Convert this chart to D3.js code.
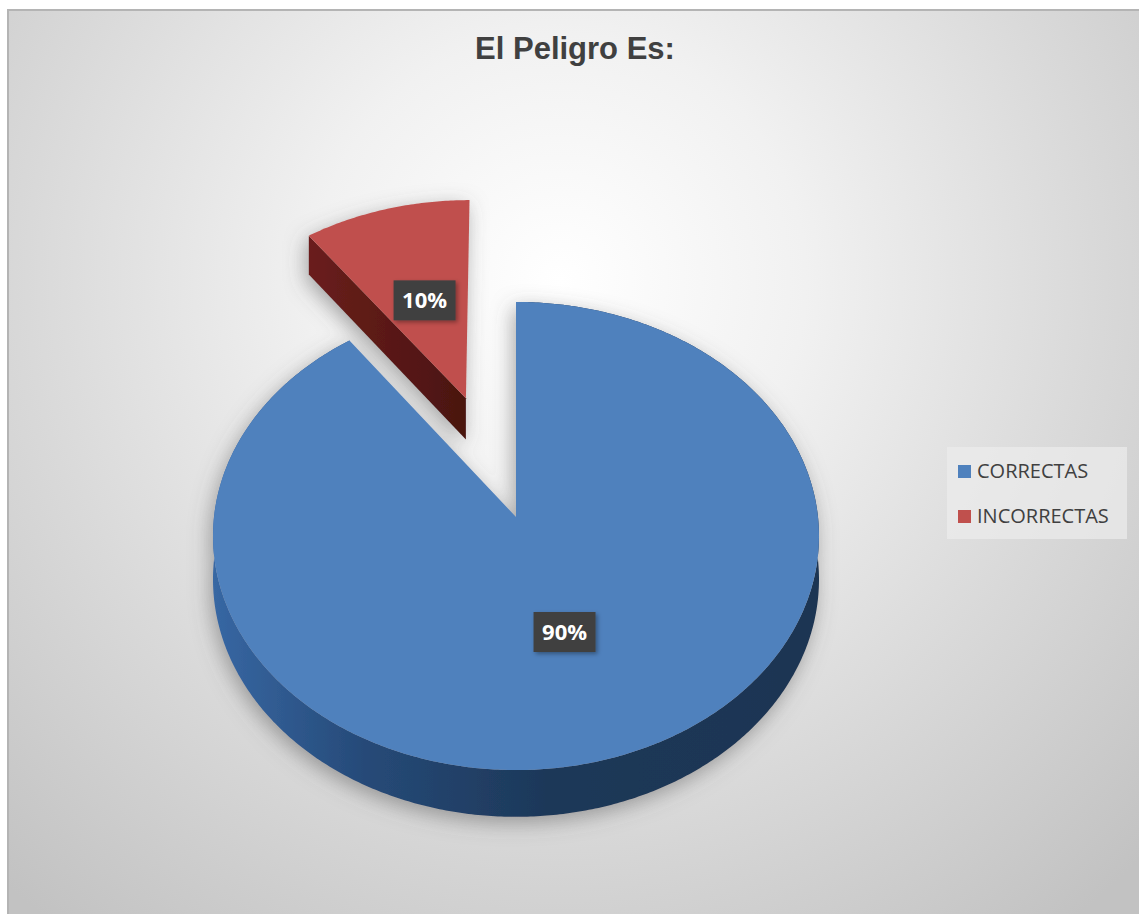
<!DOCTYPE html>
<html>
<head>
<meta charset="utf-8">
<script src="https://cdn.jsdelivr.net/npm/d3@7"></script>
<style>
  html, body { margin: 0; padding: 0; background: #ffffff; }
  svg { display: block; }
</style>
</head>
<body>
<div id="chart"></div>
<script>
// values
const categories = ['CORRECTAS', 'INCORRECTAS'];
const values = [90, 10];
const labels = ['90%', '10%'];
const exploded = [0, 0.56];
const chartTitle = 'El Peligro Es:';

(function () {
  const WIDTH = 1139;
  const HEIGHT = 914;
  const TOP_COLORS = ['#4f81bd', '#c0504d'];
  const SIDE_STOPS = [
    [['0', '#3767a3'], ['0.25', '#264a78'], ['0.55', '#1d3859'], ['1', '#1c3552']],
    [['0', '#6a1f1c'], ['1', '#4a1310']]
  ];

  // perspective projection of the pie plane: u to the right, w to the back
  const CX = 516;
  const CY = 517;
  const PERSPECTIVE = 0.0812;
  const DEPTH = 43;
  const uScale = d3.scaleLinear().domain([-1, 1]).range([-302, 302]);
  const wScale = d3.scaleLinear().domain([-1, 1]).range([232.5, -232.5]);

  function project (u, w, lift) {
    let s = 1 / (1 + PERSPECTIVE * w);
    return [CX + uScale(u) * s, CY + wScale(w) * s + lift * DEPTH * s];
  }

  function pointAt (center, angle, r, lift) {
    return project(center[0] + r * Math.sin(angle), center[1] + r * Math.cos(angle), lift);
  }

  function arcPoints (center, a0, a1, lift) {
    let steps = Math.max(8, Math.ceil((a1 - a0) / 0.01));
    let pts = [];
    for (let i = 0; i <= steps; i++) {
      pts.push(pointAt(center, a0 + (a1 - a0) * i / steps, 1, lift));
    }
    return pts;
  }

  const line = d3.line().curve(d3.curveLinearClosed);

  let svg = d3.select('#chart').append('svg')
    .attr('width', WIDTH)
    .attr('height', HEIGHT);

  let defs = svg.append('defs');
  let bg = defs.append('radialGradient')
    .attr('id', 'bg')
    .attr('gradientUnits', 'userSpaceOnUse')
    .attr('cx', 560).attr('cy', 280).attr('r', 820);
  bg.append('stop').attr('offset', '0').attr('stop-color', '#ffffff');
  bg.append('stop').attr('offset', '0.3').attr('stop-color', '#f1f1f1');
  bg.append('stop').attr('offset', '0.65').attr('stop-color', '#d9d9d9');
  bg.append('stop').attr('offset', '1').attr('stop-color', '#c2c2c2');

  SIDE_STOPS.forEach(function (stops, i) {
    let g = defs.append('linearGradient')
      .attr('id', 'side' + i)
      .attr('x1', '0').attr('y1', '0').attr('x2', '1').attr('y2', '0');
    stops.forEach(function (s) {
      g.append('stop').attr('offset', s[0]).attr('stop-color', s[1]);
    });
  });

  let shadow = defs.append('filter').attr('id', 'shadow')
    .attr('x', '-20%').attr('y', '-20%').attr('width', '140%').attr('height', '140%');
  shadow.append('feDropShadow')
    .attr('dx', -3).attr('dy', 6).attr('stdDeviation', 10)
    .attr('flood-color', '#555555').attr('flood-opacity', 0.5);

  let labelShadow = defs.append('filter').attr('id', 'labelShadow')
    .attr('x', '-30%').attr('y', '-30%').attr('width', '160%').attr('height', '160%');
  labelShadow.append('feDropShadow')
    .attr('dx', 2).attr('dy', 2).attr('stdDeviation', 2)
    .attr('flood-color', '#000000').attr('flood-opacity', 0.35);

  // chart area
  svg.append('rect')
    .attr('x', 8).attr('y', 10)
    .attr('width', WIDTH).attr('height', HEIGHT)
    .attr('fill', 'url(#bg)')
    .attr('stroke', '#b4b4b4')
    .attr('stroke-width', 2);

  svg.append('text')
    .attr('x', 575).attr('y', 59)
    .attr('text-anchor', 'middle')
    .attr('font-family', '"Liberation Sans", Arial, sans-serif')
    .attr('font-weight', 'bold')
    .attr('font-size', 31)
    .attr('fill', '#404040')
    .text(chartTitle);

  let slices = d3.pie().sort(null).value(function (d) { return d; })(values);
  let pieGroup = svg.append('g').attr('filter', 'url(#shadow)');

  // back (exploded) slices first, then the main one
  let order = slices.map(function (d, i) { return i; })
    .sort(function (a, b) { return exploded[b] - exploded[a]; });

  let labelSpots = [];
  order.forEach(function (i) {
    let d = slices[i];
    let mid = (d.startAngle + d.endAngle) / 2;
    let center = [exploded[i] * Math.sin(mid), exploded[i] * Math.cos(mid)];
    let g = pieGroup.append('g');

    if (exploded[i] > 0) {
      // radial face on the left edge of the slice is the one facing us
      let c0 = pointAt(center, 0, 0, 0);
      let c1 = pointAt(center, 0, 0, 1);
      let r0 = pointAt(center, d.startAngle, 1, 0);
      let r1 = pointAt(center, d.startAngle, 1, 1);
      g.append('path')
        .attr('d', line([c0, r0, r1, c1]))
        .attr('fill', 'url(#side' + i + ')');
    } else {
      let top = arcPoints(center, d.startAngle, d.endAngle, 0);
      let bottom = arcPoints(center, d.startAngle, d.endAngle, 1).reverse();
      g.append('path')
        .attr('d', line(top.concat(bottom)))
        .attr('fill', 'url(#side' + i + ')');
    }

    let face = [pointAt(center, 0, 0, 0)].concat(arcPoints(center, d.startAngle, d.endAngle, 0));
    g.append('path')
      .attr('d', line(face))
      .attr('fill', TOP_COLORS[i]);

    labelSpots[i] = pointAt(center, mid, 0.5, 0);
  });

  // data labels
  slices.forEach(function (d, i) {
    let p = labelSpots[i];
    let lg = svg.append('g').attr('transform', 'translate(' + p[0] + ',' + p[1] + ')');
    lg.append('rect')
      .attr('x', -31).attr('y', -20)
      .attr('width', 62).attr('height', 40)
      .attr('fill', '#404040')
      .attr('filter', 'url(#labelShadow)');
    lg.append('text')
      .attr('y', 8)
      .attr('text-anchor', 'middle')
      .attr('font-family', '"Open Sans", sans-serif')
      .attr('font-weight', 'bold')
      .attr('font-size', 22)
      .attr('fill', '#ffffff')
      .text(labels[i]);
  });

  // legend
  let legend = svg.append('g');
  legend.append('rect')
    .attr('x', 947).attr('y', 447)
    .attr('width', 180).attr('height', 92)
    .attr('fill', '#ececec')
    .attr('opacity', 0.7);
  let legendY = d3.scalePoint().domain(categories).range([471, 516]);
  categories.forEach(function (name, i) {
    legend.append('rect')
      .attr('x', 958).attr('y', legendY(name) - 6)
      .attr('width', 13).attr('height', 13)
      .attr('fill', TOP_COLORS[i]);
    legend.append('text')
      .attr('x', 977).attr('y', legendY(name) + 7)
      .attr('font-family', '"Open Sans", sans-serif')
      .attr('font-size', 20)
      .attr('fill', '#404040')
      .text(name);
  });
}());
</script>
</body>
</html>
